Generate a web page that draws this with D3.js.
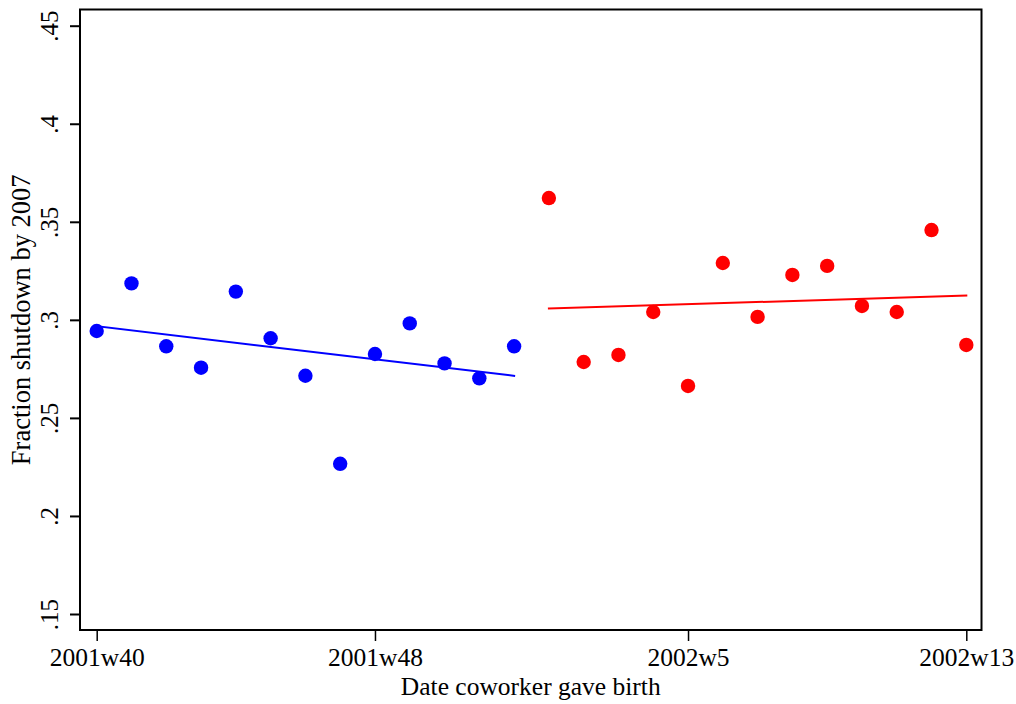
<!DOCTYPE html>
<html>
<head>
<meta charset="utf-8">
<script src="https://cdn.jsdelivr.net/npm/d3@7"></script>
<style>
  body { margin: 0; background: #fff; }
  text { font-family: "Liberation Serif", "Times New Roman", serif; fill: #000; }
</style>
</head>
<body>
<svg id="chart" width="1016" height="704"></svg>
<script>
// week index counted from 2001w40 (2001 has 52 Stata weeks)
const blueWeeks = [0, 1, 2, 3, 4, 5, 6, 7, 8, 9, 10, 11, 12];
const blueValues = [0.2943, 0.3186, 0.2865, 0.2756, 0.3144, 0.2906, 0.2715,
  0.2266, 0.2826, 0.2982, 0.2778, 0.2702, 0.2865];

const redWeeks = [13, 14, 15, 16, 17, 18, 19, 20, 21, 22, 23, 24, 25];
const redValues = [0.3621, 0.2785, 0.2821, 0.3040, 0.2663, 0.3290, 0.3015,
  0.3229, 0.3275, 0.3071, 0.3040, 0.3458, 0.2872];

const xTickWeeks = [0, 8, 17, 25];
const xTickLabels = ['2001w40', '2001w48', '2002w5', '2002w13'];
const yTicks = [0.15, 0.2, 0.25, 0.3, 0.35, 0.4, 0.45];
const yTickLabels = ['.15', '.2', '.25', '.3', '.35', '.4', '.45'];

const plotLeft = 80, plotRight = 981.5, plotTop = 9.5, plotBottom = 630;

const x = d3.scaleLinear().domain([0, 25]).range([96.7, 966.3]);
const y = d3.scaleLinear().domain([0.15, 0.45]).range([614, 25.7]);

const svg = d3.select('#chart');

// least squares fit, drawn over the range of the data
function fitLine(xs, ys) {
  const mx = d3.mean(xs), my = d3.mean(ys);
  let sxy = 0, sxx = 0;
  xs.forEach((v, i) => { sxy += (v - mx) * (ys[i] - my); sxx += (v - mx) * (v - mx); });
  const b = sxy / sxx, a = my - b * mx;
  const x0 = d3.min(xs), x1 = d3.max(xs);
  return [[x0, a + b * x0], [x1, a + b * x1]];
}

const line = d3.line().x(d => x(d[0])).y(d => y(d[1]));

const groups = [
  { weeks: blueWeeks, values: blueValues, color: '#0000ff' },
  { weeks: redWeeks, values: redValues, color: '#ff0000' }
];

groups.forEach(g => {
  svg.append('g')
    .selectAll('circle')
    .data(g.weeks.map((w, i) => [w, g.values[i]]))
    .enter().append('circle')
    .attr('cx', d => x(d[0]))
    .attr('cy', d => y(d[1]))
    .attr('r', 7.2)
    .style('fill', g.color);

  svg.append('path')
    .attr('d', line(fitLine(g.weeks, g.values)))
    .style('fill', 'none')
    .style('stroke', g.color)
    .style('stroke-width', 2)
    .style('stroke-linecap', 'square');
});

// frame
svg.append('rect')
  .attr('x', plotLeft).attr('y', plotTop)
  .attr('width', plotRight - plotLeft).attr('height', plotBottom - plotTop)
  .style('fill', 'none')
  .style('stroke', '#000')
  .style('stroke-width', 2);

// y axis
const yAxis = svg.append('g')
  .attr('transform', 'translate(' + plotLeft + ',0)')
  .call(d3.axisLeft(y)
    .tickValues(yTicks)
    .tickFormat((d, i) => yTickLabels[i])
    .tickSize(10)
    .tickSizeOuter(0));
yAxis.select('.domain').remove();
yAxis.selectAll('line').style('stroke', '#000').style('stroke-width', 2);
yAxis.selectAll('text')
  .attr('x', null).attr('dy', null)
  .attr('text-anchor', 'middle')
  .attr('transform', 'translate(-22,0) rotate(-90)')
  .style('font-family', '"Liberation Serif", serif')
  .style('font-size', '25px');

// x axis
const xAxis = svg.append('g')
  .attr('transform', 'translate(0,' + plotBottom + ')')
  .call(d3.axisBottom(x)
    .tickValues(xTickWeeks)
    .tickFormat((d, i) => xTickLabels[i])
    .tickSize(11)
    .tickSizeOuter(0));
xAxis.select('.domain').remove();
xAxis.selectAll('line').style('stroke', '#000').style('stroke-width', 1.5);
xAxis.selectAll('text')
  .attr('y', 36).attr('dy', null)
  .attr('text-anchor', 'middle')
  .style('font-family', '"Liberation Serif", serif')
  .style('font-size', '25.5px');

// axis titles
svg.append('text')
  .attr('x', (plotLeft + plotRight) / 2)
  .attr('y', 695)
  .attr('text-anchor', 'middle')
  .style('font-size', '25.5px')
  .text('Date coworker gave birth');

svg.append('text')
  .attr('transform', 'translate(30,' + (plotTop + plotBottom) / 2 + ') rotate(-90)')
  .attr('text-anchor', 'middle')
  .style('font-size', '26.5px')
  .text('Fraction shutdown by 2007');
</script>
</body>
</html>
